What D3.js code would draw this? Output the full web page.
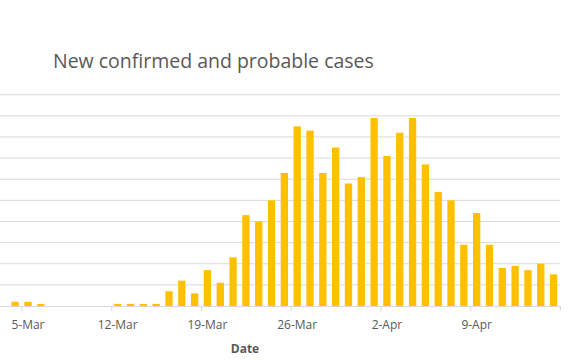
<!DOCTYPE html>
<html>
<head>
<meta charset="utf-8">
<script src="https://cdn.jsdelivr.net/npm/d3@7"></script>
<style>
  html, body { margin: 0; padding: 0; background: #fff; }
  svg { display: block; }
</style>
</head>
<body>
<svg id="chart" width="576" height="360"></svg>
<script>
// ---- data ----
const titleText = "New confirmed and probable cases";
const xAxisTitle = "Date";
const dates = [
  "4-Mar","5-Mar","6-Mar","7-Mar","8-Mar","9-Mar","10-Mar","11-Mar","12-Mar","13-Mar",
  "14-Mar","15-Mar","16-Mar","17-Mar","18-Mar","19-Mar","20-Mar","21-Mar","22-Mar","23-Mar",
  "24-Mar","25-Mar","26-Mar","27-Mar","28-Mar","29-Mar","30-Mar","31-Mar","1-Apr","2-Apr",
  "3-Apr","4-Apr","5-Apr","6-Apr","7-Apr","8-Apr","9-Apr","10-Apr","11-Apr","12-Apr",
  "13-Apr","14-Apr","15-Apr"
];
const cases = [
  2, 2, 1, 0, 0, 0, 0, 0, 1, 1,
  1, 1, 7, 12, 6, 17, 11, 23, 43, 40,
  50, 63, 85, 83, 63, 75, 58, 61, 89, 71,
  82, 89, 67, 54, 50, 29, 44, 29, 18, 19,
  17, 20, 15
];
const tickLabels = ["5-Mar","12-Mar","19-Mar","26-Mar","2-Apr","9-Apr"];
const axisStart = "27-Feb";
const axisEnd = "16-Apr";
const yMax = 100;
const yStep = 10;

// ---- setup ----
const parse = s => d3.utcParse("%d-%b-%Y")(s + "-2020");
const DAY = 86400000;
const svg = d3.select("#chart");

const plotRight = 560, baseY = 306, topY = 94.7;
const dayPx = 12.82;
const nDays = (parse(axisEnd) - parse(axisStart)) / DAY;
const x = d3.scaleUtc()
  .domain([parse(axisStart), parse(axisEnd)])
  .range([plotRight - nDays * dayPx, plotRight]);
const y = d3.scaleLinear().domain([0, yMax]).range([baseY, topY]);

const grey = "#595959";
const gridColor = "#D9D9D9";
const font = "'Open Sans', 'Noto Sans', sans-serif";

// gridlines
const gridVals = d3.range(yStep, yMax + yStep / 2, yStep);
svg.append("g").selectAll("line").data(gridVals).join("line")
  .attr("x1", x.range()[0]).attr("x2", plotRight)
  .attr("y1", d => y(d)).attr("y2", d => y(d))
  .attr("stroke", gridColor).attr("stroke-width", 1);

// bars
const barW = dayPx * 0.57;
const data = dates.map((d, i) => ({ date: parse(d), v: cases[i] }));
svg.append("g").selectAll("rect").data(data.filter(d => d.v > 0)).join("rect")
  .attr("x", d => x(d.date) + (dayPx - barW) / 2)
  .attr("width", barW)
  .attr("y", d => y(d.v))
  .attr("height", d => y(0) - y(d.v))
  .attr("fill", "#FFC000");

// x axis
const tickDates = tickLabels.map(parse);
const xAxis = d3.axisBottom(x)
  .tickValues(tickDates.concat([parse(axisEnd)]))
  .tickSize(5)
  .tickFormat("");
const gx = svg.append("g").attr("transform", `translate(0,${baseY})`).call(xAxis);
gx.select(".domain").attr("stroke", gridColor).attr("stroke-width", 1);
gx.selectAll(".tick line").attr("stroke", gridColor);

// tick labels at day centers
svg.append("g").selectAll("text").data(tickDates).join("text")
  .attr("x", (d, i) => x(d) + dayPx / 2)
  .attr("y", 329)
  .attr("text-anchor", "middle")
  .attr("font-family", font)
  .attr("font-size", 12)
  .attr("fill", grey)
  .text((d, i) => tickLabels[i]);

// axis title
svg.append("text")
  .attr("x", 245).attr("y", 353)
  .attr("text-anchor", "middle")
  .attr("font-family", font)
  .attr("font-size", 12)
  .attr("font-weight", "bold")
  .attr("fill", grey)
  .text(xAxisTitle);

// chart title
const t = svg.append("text")
  .attr("x", 53).attr("y", 68)
  .attr("font-family", font)
  .attr("font-size", 18)
  .attr("fill", grey)
  .text(titleText);
const w = t.node().getComputedTextLength();
if (w > 0) t.attr("font-size", 18 * 321 / w);
</script>
</body>
</html>
